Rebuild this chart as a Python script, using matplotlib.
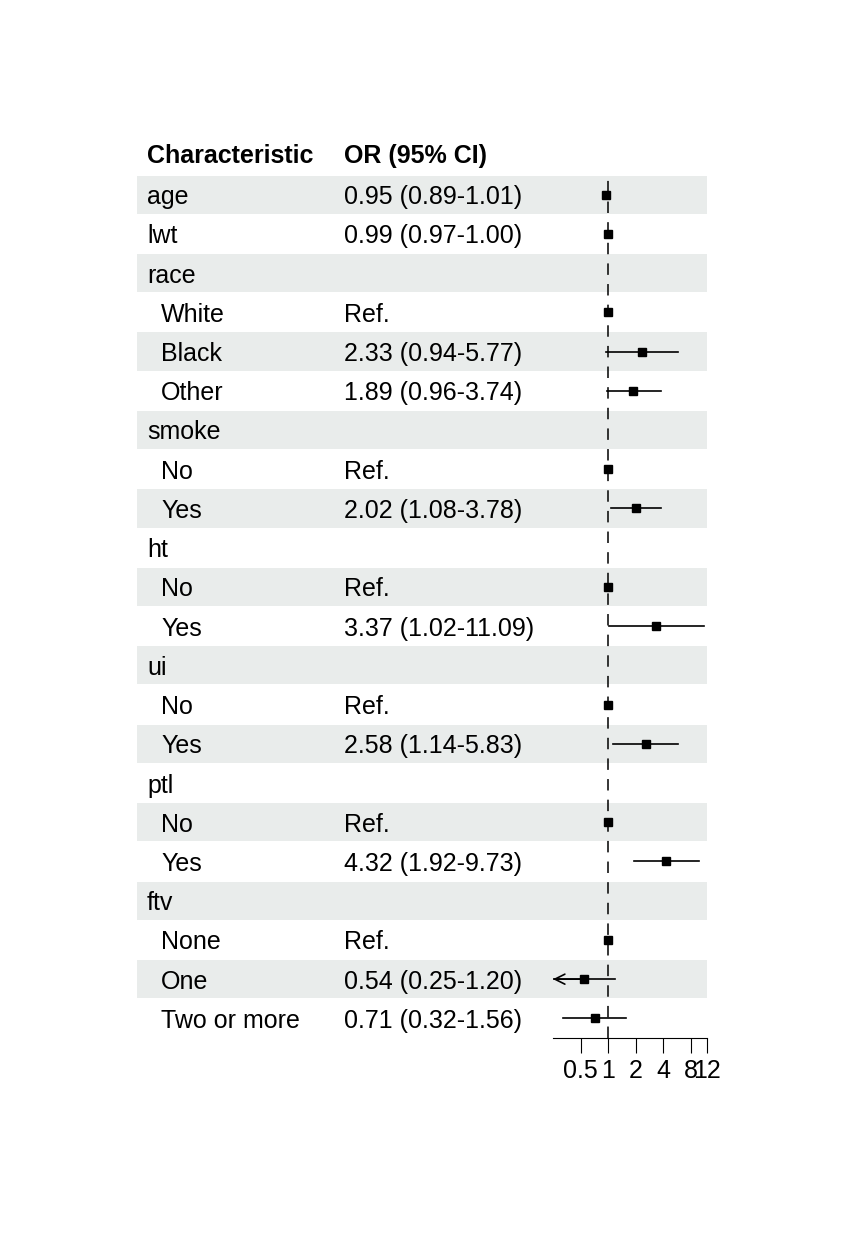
import numpy as np
import matplotlib
matplotlib.use("Agg")
import matplotlib.pyplot as plt
from matplotlib.patches import Rectangle

plt.rcParams['font.family'] = ['Liberation Sans', 'DejaVu Sans']

# table rows: label, indent, OR text
labels = ["age", "lwt", "race", "White", "Black", "Other", "smoke", "No", "Yes",
          "ht", "No", "Yes", "ui", "No", "Yes", "ptl", "No", "Yes",
          "ftv", "None", "One", "Two or more"]
indent = [0, 0, 0, 1, 1, 1, 0, 1, 1, 0, 1, 1, 0, 1, 1, 0, 1, 1, 0, 1, 1, 1]
or_text = ["0.95 (0.89-1.01)", "0.99 (0.97-1.00)", "", "Ref.", "2.33 (0.94-5.77)",
           "1.89 (0.96-3.74)", "", "Ref.", "2.02 (1.08-3.78)", "", "Ref.",
           "3.37 (1.02-11.09)", "", "Ref.", "2.58 (1.14-5.83)", "", "Ref.",
           "4.32 (1.92-9.73)", "", "Ref.", "0.54 (0.25-1.20)", "0.71 (0.32-1.56)"]
# estimates (nan = header row, no mark)
est = [0.95, 0.99, np.nan, 1, 2.33, 1.89, np.nan, 1, 2.02, np.nan, 1, 3.37,
       np.nan, 1, 2.58, np.nan, 1, 4.32, np.nan, 1, 0.54, 0.71]
low = [0.89, 0.97, np.nan, 1, 0.94, 0.96, np.nan, 1, 1.08, np.nan, 1, 1.02,
       np.nan, 1, 1.14, np.nan, 1, 1.92, np.nan, 1, 0.245, 0.32]
high = [1.01, 1.00, np.nan, 1, 5.77, 3.74, np.nan, 1, 3.78, np.nan, 1, 11.09,
        np.nan, 1, 5.83, np.nan, 1, 9.73, np.nan, 1, 1.20, 1.56]
ticks = [0.5, 1, 2, 4, 8, 12]
xlim = (0.25, 12)

W, H = 844, 1233
fig = plt.figure(figsize=(W / 100, H / 100), dpi=100)

# table area in pixel coordinates
ax = fig.add_axes([0, 0, 1, 1])
ax.set_xlim(0, W)
ax.set_ylim(H, 0)
ax.axis('off')

top, bottom = 175, 1038
n = len(labels)
rh = (bottom - top) / n
left, right = 137, 707
fs = 18

ax.text(147, 156, "Characteristic", fontsize=fs, fontweight='bold', va='center')
ax.text(344, 156, "OR (95% CI)", fontsize=fs, fontweight='bold', va='center')

for i in range(n):
    y0 = top + i * rh
    if i % 2 == 0:
        ax.add_patch(Rectangle((left, y0 + 0.5), right - left, rh - 1,
                               facecolor='#E9ECEB', edgecolor='none', zorder=0))
    yc = y0 + rh / 2 + 2.5
    ax.text(147 + 14 * indent[i], yc, labels[i], fontsize=fs, va='center')
    ax.text(344, yc, or_text[i], fontsize=fs, va='center')

# forest panel
fx0, fx1 = 553, 707
axf = fig.add_axes([fx0 / W, (H - bottom) / H, (fx1 - fx0) / W, (bottom - top) / H])
axf.patch.set_alpha(0)
axf.set_xscale('log', base=2)
axf.set_xlim(*xlim)
axf.set_ylim(n - 0.5, -0.5)
for s in ['top', 'right', 'left']:
    axf.spines[s].set_visible(False)
axf.spines['bottom'].set_linewidth(0.8)
axf.set_yticks([])
axf.set_xticks(ticks)
axf.set_xticklabels([f"{t:g}" for t in ticks])
axf.xaxis.set_minor_locator(matplotlib.ticker.NullLocator())
axf.tick_params(axis='x', length=11, width=0.8, labelsize=fs, pad=4)

axf.axvline(1, color='black', lw=1.1, ls=(0, (7.5, 6)), zorder=1)

for i in range(n):
    if np.isnan(est[i]):
        continue
    lo = max(low[i], xlim[0])
    hi = min(high[i], xlim[1])
    axf.plot([lo, hi], [i, i], color='black', lw=1.2, zorder=2)
    if low[i] < xlim[0]:
        axf.annotate('', xy=(xlim[0], i), xytext=(est[i], i),
                     arrowprops=dict(arrowstyle='->', lw=1.2, color='black',
                                     mutation_scale=18, shrinkA=0, shrinkB=0))
    axf.plot(est[i], i, marker='s', ms=6.3, color='black', zorder=3)

fig.savefig("out.png", dpi=100)
